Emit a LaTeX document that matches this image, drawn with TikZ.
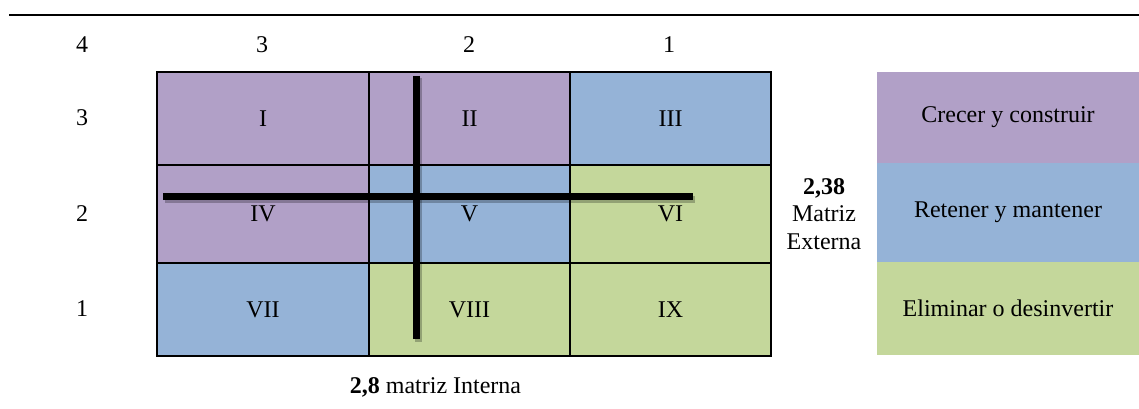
\documentclass[tikz,border=0pt]{standalone}
\usepackage{fontspec}
\setmainfont{Liberation Serif}
\definecolor{cpurple}{HTML}{B1A0C7}
\definecolor{cblue}{HTML}{95B3D7}
\definecolor{cgreen}{HTML}{C4D79B}
\begin{document}
\begin{tikzpicture}[x=1pt,y=-1pt,
  every node/.style={font=\fontsize{24}{28}\selectfont, inner sep=0pt, outer sep=0pt, text=black},
  cell/.style={draw=black, line width=2pt, minimum width=#1},
  legendbox/.style={minimum width=262pt, anchor=north west},
  axislabel/.style={},
  bar/.style={line width=7pt, black},
  barshadow/.style={line width=7pt, black, opacity=0.25}]
\useasboundingbox (0,0) rectangle (1139,409);
% top rule
\coordinate (ruleL) at (9,15);
\coordinate (ruleR) at (1139,15);
\draw[line width=2.5pt] (ruleL) -- (ruleR);
% column labels
\node[axislabel] (c4) at (82,45) {4};
\node[axislabel] (c3) at (262,45) {3};
\node[axislabel] (c2) at (469,45) {2};
\node[axislabel] (c1) at (669,45) {1};
% row labels
\node[axislabel] (r3) at (82,118) {3};
\node[axislabel] (r2) at (82,214) {2};
\node[axislabel] (r1) at (82,309) {1};
% cells
\node[cell=212pt, minimum height=93pt, fill=cpurple] (I) at (263,118.5) {I};
\node[cell=201pt, minimum height=93pt, fill=cpurple] (II) at (469.5,118.5) {II};
\node[cell=201pt, minimum height=93pt, fill=cblue] (III) at (670.5,118.5) {III};
\node[cell=212pt, minimum height=98pt, fill=cpurple] (IV) at (263,214) {IV};
\node[cell=201pt, minimum height=98pt, fill=cblue] (V) at (469.5,214) {V};
\node[cell=201pt, minimum height=98pt, fill=cgreen] (VI) at (670.5,214) {VI};
\node[cell=212pt, minimum height=93pt, fill=cblue] (VII) at (263,309.5) {VII};
\node[cell=201pt, minimum height=93pt, fill=cgreen] (VIII) at (469.5,309.5) {VIII};
\node[cell=201pt, minimum height=93pt, fill=cgreen] (IX) at (670.5,309.5) {IX};
% thick cross lines
\coordinate (vtop) at (416.5,76);
\coordinate (vbot) at (416.5,339);
\coordinate (hleft) at (163,196.5);
\coordinate (hright) at (693,196.5);
\draw[barshadow] ([shift={(2,2.5)}]vtop) -- ([shift={(2,2.5)}]vbot);
\draw[barshadow] ([shift={(2,2.5)}]hleft) -- ([shift={(2,2.5)}]hright);
\draw[bar] (vtop) -- (vbot);
\draw[bar] (hleft) -- (hright);
% external label
\node[align=center, font=\fontsize{24}{27.5}\selectfont] (ext) at (824,214) {\textbf{2,38}\\Matriz\\Externa};
% internal label
\node (int) at (435.5,387) {\textbf{2,8} matriz Interna};
% legend
\node[legendbox, minimum height=91pt, fill=cpurple] (lg1) at (877,72) {Crecer y construir};
\node[legendbox, minimum height=99pt, fill=cblue] (lg2) at (877,163) {Retener y mantener};
\node[legendbox, minimum height=93pt, fill=cgreen] (lg3) at (877,262) {Eliminar o desinvertir};
\end{tikzpicture}
\end{document}
